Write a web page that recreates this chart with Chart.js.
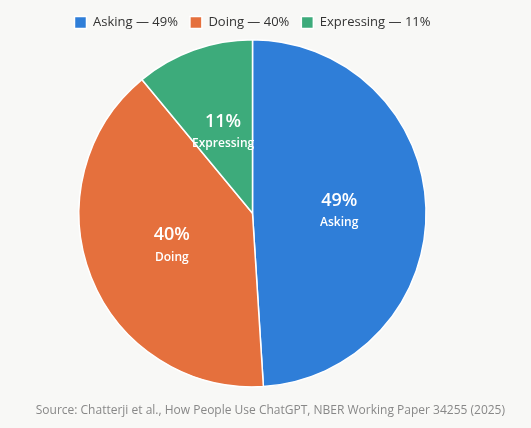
<!DOCTYPE html>
<html>
<head>
<meta charset="utf-8">
<script src="https://cdn.jsdelivr.net/npm/chart.js@4"></script>
<style>
  html, body { margin: 0; padding: 0; background: #f8f8f6; }
  #wrap { width: 531px; height: 428px; }
</style>
</head>
<body>
<div id="wrap"><canvas id="c"></canvas></div>
<script>
const categories = ['Asking', 'Doing', 'Expressing'];
const shares = [49, 40, 11];
const colors = ['#2f7ed8', '#e5703d', '#3dab7b'];

// percent + name drawn in the middle of each slice
const sliceLabels = {
  id: 'sliceLabels',
  afterDatasetsDraw(chart) {
    const ctx = chart.ctx;
    chart.getDatasetMeta(0).data.forEach((arc, i) => {
      const p = arc.getCenterPoint();
      ctx.save();
      ctx.fillStyle = '#fff';
      ctx.textAlign = 'center';
      ctx.textBaseline = 'middle';
      ctx.font = '600 18px "Open Sans", sans-serif';
      ctx.fillText(shares[i] + '%', p.x, p.y - 10);
      ctx.font = '600 12px "Open Sans", sans-serif';
      ctx.fillText(categories[i], p.x, p.y + 12);
      ctx.restore();
    });
  }
};

new Chart(document.getElementById('c'), {
  type: 'pie',
  data: {
    labels: categories.map((c, i) => c + ' — ' + shares[i] + '%'),
    datasets: [{
      data: shares,
      backgroundColor: colors,
      borderColor: '#ffffff',
      borderWidth: 1.5
    }]
  },
  options: {
    responsive: true,
    maintainAspectRatio: false,
    animation: false,
    layout: { padding: { top: 4, bottom: 10, right: 26, left: 0 } },
    plugins: {
      legend: {
        position: 'top',
        labels: {
          boxWidth: 12, boxHeight: 12, padding: 12,
          color: '#333', font: { family: 'Open Sans', size: 13 }
        }
      },
      subtitle: {
        display: true,
        position: 'bottom',
        align: 'end',
        text: 'Source: Chatterji et al., How People Use ChatGPT, NBER Working Paper 34255 (2025)',
        color: '#888',
        font: { family: 'Open Sans', size: 12 },
        padding: { top: 16, bottom: 0 }
      },
      tooltip: { enabled: false }
    }
  },
  plugins: [sliceLabels]
});
</script>
</body>
</html>
